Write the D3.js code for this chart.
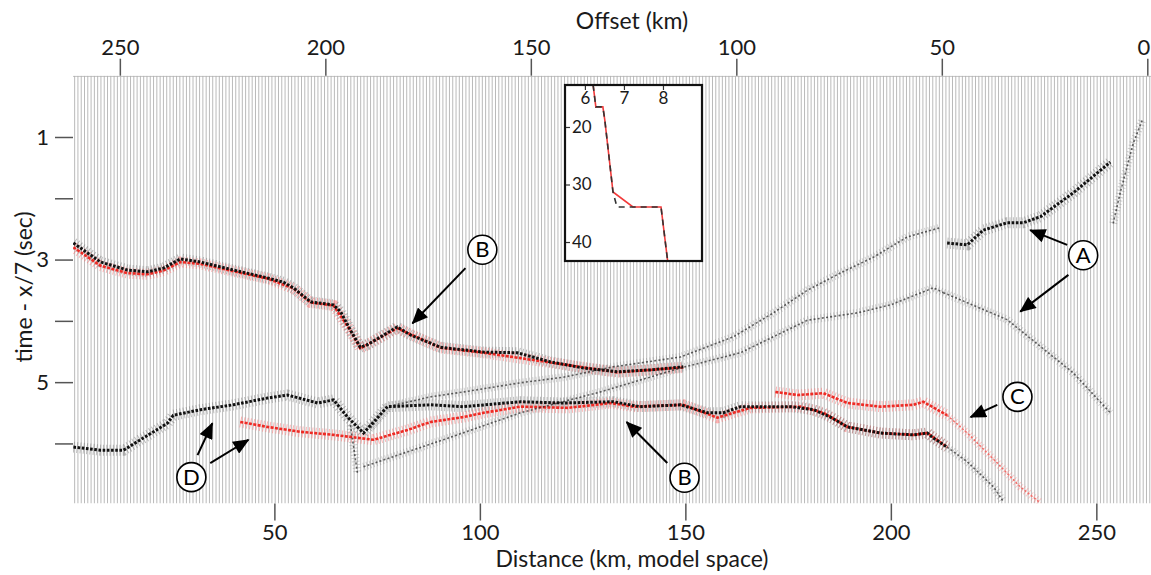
<!DOCTYPE html>
<html>
<head>
<meta charset="utf-8">
<script src="https://cdn.jsdelivr.net/npm/d3@7"></script>
<style>
  body { margin: 0; background: #fff; }
  svg { display: block; font-family: Lato, "Open Sans", sans-serif; }
</style>
</head>
<body>
<svg></svg>
<script>
// tick values
var distanceTicks = [50, 100, 150, 200, 250]
var offsetTicks = [250, 200, 150, 100, 50, 0]
var timeTicks = [1, 2, 3, 4, 5, 6]
var timeTickLabels = [1, 3, 5]
var traceStep = 0.8   // km between traces

// picked phases [distance km, reduced time s]
var upperB = [[1.1,2.73],[7.7,3.04],[14.2,3.17],[19.1,3.20],[23.0,3.14],[27.1,2.99],[32.0,3.04],[40.0,3.17],
  [48.3,3.30],[52.2,3.37],[54.6,3.46],[58.8,3.69],[64.4,3.74],[66.1,3.85],[68.5,4.15],[70.9,4.43],[72.6,4.39],
  [79.9,4.10],[83.1,4.23],[90.4,4.43],[100.9,4.51],[109.1,4.52],[117.2,4.67],[125.2,4.77],[133.5,4.83],
  [141.5,4.80],[149.5,4.75]]
var redUpperB = [[1.1,2.80],[7.7,3.10],[14.2,3.22],[19.1,3.24],[23.0,3.18],[27.1,3.04],[32.0,3.07],[40.0,3.19],
  [48.3,3.31],[54.6,3.47],[58.8,3.70],[64.4,3.75],[68.5,4.16],[70.9,4.45],[79.9,4.12],[90.4,4.44],
  [100.9,4.52],[117.2,4.68],[133.5,4.84],[149.5,4.76]]
var lowerD = [[1.1,6.06],[7.7,6.11],[13.3,6.11],[17.4,5.94],[24.0,5.67],[25.4,5.54],[32.0,5.45],[40.0,5.37],
  [48.3,5.26],[53.2,5.21],[60.5,5.34],[64.4,5.29],[67.8,5.57],[71.7,5.83],[77.5,5.40],[88.0,5.37],[96.0,5.40],
  [109.9,5.32],[120.3,5.34],[132.5,5.32],[139.0,5.40],[148.8,5.37],[155.4,5.50],[159.2,5.50],[163.4,5.40],
  [175.6,5.40],[181.2,5.45],[185.3,5.57],[189.4,5.73],[197.4,5.83],[205.5,5.86],[208.9,5.83],[210.3,5.91],
  [213.7,6.06]]
var redLower = [[41.7,5.65],[48.3,5.73],[56.3,5.81],[64.4,5.86],[74.1,5.94],[82.4,5.78],[88.0,5.65],[96.0,5.57],
  [100.9,5.50],[109.9,5.40],[121.3,5.42],[131.8,5.34],[137.4,5.40],[149.5,5.37],[157.8,5.58],[161.7,5.50],
  [165.8,5.42],[178.0,5.40],[183.6,5.50],[189.4,5.73],[197.4,5.83],[205.5,5.86],[208.9,5.83],[213.7,6.06]]
var redC = [[171.9,5.16],[177.3,5.21],[183.6,5.18],[189.4,5.34],[197.4,5.40],[205.5,5.37],[207.9,5.32],
  [211.3,5.45],[213.7,5.54]]
var redCTail = [[213.7,5.54],[218.6,5.83],[225.9,6.32],[231.5,6.71],[236.4,6.97]]
var boldA = [[213.7,2.73],[218.6,2.76],[222.5,2.52],[228.3,2.40],[232.2,2.40],[236.4,2.30],[244.4,1.91],[253.4,1.41]]
var upperA = [[73.4,5.75],[77.5,5.40],[88.0,5.24],[96.0,5.16],[109.9,5.01],[120.3,4.92],[132.5,4.75],
  [148.8,4.59],[161.7,4.26],[171.4,3.87],[179.7,3.50],[187.7,3.22],[195.8,2.96],[204.0,2.63],[212.0,2.48]]
var lowerA = [[71.7,6.38],[91.1,5.94],[109.9,5.50],[129.3,5.16],[148.8,4.77],[163.4,4.52],[179.7,3.99],
  [191.8,3.87],[199.9,3.74],[208.9,3.50],[210.3,3.46],[212.8,3.54]]
var descendA = [[212.8,3.54],[228.3,3.98],[244.4,4.85],[253.4,5.50]]
var steepRight = [[254.1,2.41],[255.8,1.91],[259.0,1.10],[261.2,0.72]]
var lowerBTail = [[213.7,6.06],[218.6,6.30],[225.0,6.71],[227.4,6.95]]
var vTail = [[68.5,5.70],[70.2,6.48]]

// annotations: letter, circle [d,t], arrows [[from],[to]]
var labels = [
  {txt:"B", at:[100.6,2.84], arrows:[[[96.5,3.14],[83.6,4.04]]]},
  {txt:"A", at:[246.8,2.93], arrows:[[[242.9,2.76],[233.9,2.52]], [[243.2,3.25],[231.5,3.85]]]},
  {txt:"C", at:[230.8,5.24], arrows:[[[225.9,5.37],[219.4,5.57]]]},
  {txt:"B", at:[149.8,6.56], arrows:[[[145.6,6.32],[135.7,5.65]]]},
  {txt:"D", at:[29.8,6.55], arrows:[[[31.3,6.19],[34.9,5.67]], [[34.4,6.32],[43.7,5.94]]]}
]

// inset velocity model [km/s, depth km]
var velRed = [[6.21,12.7],[6.28,16.5],[6.46,16.5],[6.51,18.8],[6.72,31.3],[7.23,33.9],[7.95,33.9],[8.12,43.3]]
var velBlack = [[6.21,12.7],[6.28,16.5],[6.46,16.5],[6.51,18.8],[6.72,31.3],[6.82,33.9],[7.95,33.9],[8.12,43.3]]
var velTicks = [6, 7, 8]
var depthTicks = [20, 30, 40]

function main(){
    var width = 1151
    var height = 575
    var svg = d3.select('svg').attr("width", width).attr("height", height)

    var left = 73, right = 1151, top = 75.7, bottom = 503.5
    var xScale = d3.scaleLinear().domain([1.0, 263.3]).range([left, right])
    var offScale = d3.scaleLinear().domain([261.4, -0.9]).range([left, right])
    var yScale = d3.scaleLinear().domain([0, 6.98]).range([top, bottom])

    svg.append("clipPath").attr("id", "plotclip")
        .append("rect").attr("x", left).attr("y", top).attr("width", right-left).attr("height", bottom-top)

    var plot = svg.append("g").attr("clip-path", "url(#plotclip)")

    // gray traces
    var traces = d3.range(1.4, 263.3, traceStep)
    plot.selectAll(".trace")
        .data(traces)
        .join("line")
        .attr("class", "trace")
        .attr("x1", d=>xScale(d)).attr("x2", d=>xScale(d))
        .attr("y1", top).attr("y2", bottom)
        .attr("stroke", "#bababa")
        .attr("stroke-width", 1)
    plot.append("line").attr("x1", left).attr("x2", right).attr("y1", top+0.5).attr("y2", top+0.5)
        .attr("stroke", "#b0b0b0")

    var line = d3.line().x(d=>xScale(d[0])).y(d=>yScale(d[1]))

    var faint = [upperA, lowerA, descendA, steepRight, lowerBTail, vTail]
    var bold = [upperB, lowerD, boldA]
    var reds = [redUpperB, redLower, redC]

    // wiggle halos
    plot.selectAll(".halo-faint").data(faint).join("path")
        .attr("d", line).attr("fill", "none")
        .attr("stroke", "#8a8a8a").attr("stroke-width", 8).attr("stroke-dasharray", "1 2.3")
        .attr("opacity", 0.4)
    plot.selectAll(".halo-red").data(reds.concat([redCTail])).join("path")
        .attr("d", line).attr("fill", "none")
        .attr("stroke", "#ff6a6a").attr("stroke-width", d=>d===redCTail ? 8 : 11)
        .attr("stroke-dasharray", "1 2.3")
        .attr("opacity", d=>d===redCTail ? 0.35 : 0.5)
    plot.selectAll(".halo-bold").data(bold).join("path")
        .attr("d", line).attr("fill", "none")
        .attr("stroke", "#7a7a7a").attr("stroke-width", 11).attr("stroke-dasharray", "1 2.3")
        .attr("opacity", 0.5)

    // red cores
    plot.selectAll(".core-red").data(reds).join("path")
        .attr("d", line).attr("fill", "none")
        .attr("stroke", "#ee2a24").attr("stroke-width", 2.6).attr("stroke-dasharray", "3 1.4")
    plot.append("path").datum(redCTail)
        .attr("d", line).attr("fill", "none")
        .attr("stroke", "#f36b66").attr("stroke-width", 1.5).attr("stroke-dasharray", "2 2")
    // black cores
    plot.selectAll(".core-faint").data(faint).join("path")
        .attr("d", line).attr("fill", "none")
        .attr("stroke", "#222").attr("stroke-width", 1.6).attr("stroke-dasharray", "2 2.2")
        .attr("opacity", 0.7)
    plot.selectAll(".core-bold").data(bold).join("path")
        .attr("d", line).attr("fill", "none")
        .attr("stroke", "#111").attr("stroke-width", 3).attr("stroke-dasharray", "2.6 1.6")

    // axes
    var tickColor = "#555"
    var topAxis = d3.axisTop(offScale).tickValues(offsetTicks).tickSize(17).tickPadding(4)
    var gTop = svg.append("g").attr("transform", "translate(0," + top + ")").call(topAxis)
    var bottomAxis = d3.axisBottom(xScale).tickValues(distanceTicks).tickSize(17).tickPadding(4)
    var gBot = svg.append("g").attr("transform", "translate(0," + bottom + ")").call(bottomAxis)
    var leftAxis = d3.axisLeft(yScale).tickValues(timeTicks).tickSize(18).tickPadding(6)
        .tickFormat(d=> timeTickLabels.indexOf(d) >= 0 ? d : "")
    var gLeft = svg.append("g").attr("transform", "translate(" + left + ",0)").call(leftAxis)
    ;[gTop, gBot, gLeft].forEach(g=>{
        g.select(".domain").remove()
        g.selectAll(".tick line").attr("stroke", tickColor).attr("stroke-width", 1.5)
        g.selectAll(".tick text").attr("font-size", 22).attr("fill", "#1a1a1a")
            .attr("font-family", "Lato, sans-serif")
    })
    // keep the "0" label inside the page edge
    gTop.selectAll(".tick text").filter(d=>d===0).attr("dx", -4)

    svg.append("text").attr("x", 632).attr("y", 29).attr("text-anchor", "middle")
        .attr("font-size", 23).attr("fill", "#1a1a1a").text("Offset (km)")
    svg.append("text").attr("x", 632).attr("y", 567).attr("text-anchor", "middle")
        .attr("font-size", 23).attr("fill", "#1a1a1a").text("Distance (km, model space)")
    svg.append("text").attr("transform", "translate(32,287) rotate(-90)").attr("text-anchor", "middle")
        .attr("font-size", 23).attr("fill", "#1a1a1a").text("time - x/7 (sec)")

    // annotations
    svg.append("defs").append("marker")
        .attr("id", "head").attr("viewBox", "0 0 14 12")
        .attr("refX", 13).attr("refY", 6)
        .attr("markerUnits", "userSpaceOnUse")
        .attr("markerWidth", 17).attr("markerHeight", 14)
        .attr("orient", "auto")
        .append("path").attr("d", "M0,0 L14,6 L0,12 Z").attr("fill", "#000")

    var ann = svg.append("g")
    labels.forEach(l=>{
        l.arrows.forEach(a=>{
            ann.append("line")
                .attr("x1", xScale(a[0][0])).attr("y1", yScale(a[0][1]))
                .attr("x2", xScale(a[1][0])).attr("y2", yScale(a[1][1]))
                .attr("stroke", "#000").attr("stroke-width", 2)
                .attr("marker-end", "url(#head)")
        })
        ann.append("circle").attr("cx", xScale(l.at[0])).attr("cy", yScale(l.at[1])).attr("r", 14.5)
            .attr("fill", "#fff").attr("stroke", "#000").attr("stroke-width", 1.6)
        ann.append("text").attr("x", xScale(l.at[0])).attr("y", yScale(l.at[1]) + 7.5)
            .attr("text-anchor", "middle").attr("font-size", 22).attr("fill", "#000")
            .text(l.txt)
    })

    // inset velocity model
    var iLeft = 565, iRight = 702, iTop = 85, iBottom = 261
    var velScale = d3.scaleLinear().domain([5.49, 9.0]).range([iLeft, iRight])
    var depthScale = d3.scaleLinear().domain([12.7, 43.3]).range([iTop, iBottom])
    var inset = svg.append("g")
    inset.append("rect").attr("x", iLeft).attr("y", iTop).attr("width", iRight-iLeft).attr("height", iBottom-iTop)
        .attr("fill", "#fff")
    inset.append("clipPath").attr("id", "insetclip")
        .append("rect").attr("x", iLeft).attr("y", iTop).attr("width", iRight-iLeft).attr("height", iBottom-iTop)
    var vline = d3.line().x(d=>velScale(d[0])).y(d=>depthScale(d[1]))
    var ig = inset.append("g").attr("clip-path", "url(#insetclip)")
    ig.append("path").datum(velRed).attr("d", vline).attr("fill", "none")
        .attr("stroke", "#f23a3a").attr("stroke-width", 1.6)
    ig.append("path").datum(velBlack).attr("d", vline).attr("fill", "none")
        .attr("stroke", "#333").attr("stroke-width", 1.6).attr("stroke-dasharray", "6 5")

    var gv = inset.append("g").attr("transform", "translate(0," + iTop + ")")
        .call(d3.axisBottom(velScale).tickValues(velTicks).tickFormat(d3.format("d")).tickSize(5).tickPadding(2))
    var gd = inset.append("g").attr("transform", "translate(" + iLeft + ",0)")
        .call(d3.axisRight(depthScale).tickValues(depthTicks).tickFormat(d3.format("d")).tickSize(5).tickPadding(2))
    ;[gv, gd].forEach(g=>{
        g.select(".domain").remove()
        g.selectAll(".tick line").attr("stroke", "#333").attr("stroke-width", 1.2)
        g.selectAll(".tick text").attr("font-size", 17).attr("fill", "#1a1a1a")
            .attr("font-family", "Lato, sans-serif")
    })
    inset.append("rect").attr("x", iLeft).attr("y", iTop).attr("width", iRight-iLeft).attr("height", iBottom-iTop)
        .attr("fill", "none").attr("stroke", "#111").attr("stroke-width", 2.2)
}
main()
</script>
</body>
</html>
